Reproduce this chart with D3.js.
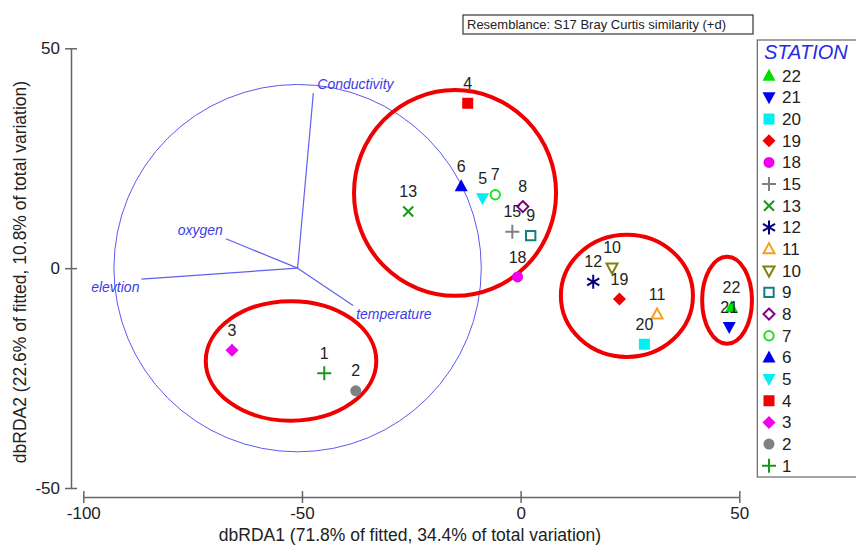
<!DOCTYPE html>
<html>
<head>
<meta charset="utf-8">
<script src="https://cdn.jsdelivr.net/npm/d3@7"></script>
<style>
  body { margin: 0; background: #fff; }
  svg { display: block; font-family: Arial, "Liberation Sans", sans-serif; }
</style>
</head>
<body>
<div id="chart"></div>
<script>
// dbRDA ordination of stations
const stations = ['22','21','20','19','18','15','13','12','11','10','9','8','7','6','5','4','3','2','1'];
const dbRDA1 = [48.2, 47.7, 28.3, 22.6, -0.7, -1.9, -25.7, 16.6, 31.2, 20.9, 2.3, 0.5, -5.8, -13.6, -8.7, -12.1, -66.0, -37.7, -44.9];
const dbRDA2 = [-8.9, -13.4, -17.3, -7.0, -2.0, 8.3, 12.9, -3.1, -10.5, 0.1, 7.4, 14.0, 16.7, 18.6, 15.9, 37.5, -18.7, -27.9, -23.9];
const shapes = ['triUp','triDown','square','diamond','circle','plus','cross','asterisk','triUp','triDown','square','diamond','circle','triUp','triDown','square','diamond','circle','plus'];
const filled = [true, true, true, true, true, false, false, false, false, false, false, false, false, true, true, true, true, true, false];
const colors = ['#00e000','#0000f0','#00f0f0','#f00000','#f000f0','#808080','#1a961a','#000080','#f5a020','#808010','#108080','#800080','#20e020','#0000f0','#00f0f0','#f00000','#f000f0','#808080','#1a961a'];

// environmental vectors (overlay circle centred at vecOrigin)
const vecNames = ['Conductivity','oxygen','elevtion','temperature'];
const vecX = [3.6, -16.4, -35.7, 12.7];
const vecY = [39.8, 6.7, -2.5, -8.5];
const vecOrigin = [-51.0, 0];
const vecRadius = 42.0;

// hand-drawn cluster ellipses (data units)
const ellCx = [-15.0, 24.3, 47.2, -52.5];
const ellCy = [17.1, -6.3, -7.3, -21.1];
const ellRx = [23.1, 15.1, 5.7, 19.5];
const ellRy = [23.4, 13.9, 9.9, 13.6];

const xTicks = [-100, -50, 0, 50];
const yTicks = [-50, 0, 50];

const W = 856, H = 545;
const svg = d3.select('#chart').append('svg').attr('width', W).attr('height', H);

const x = d3.scaleLinear().domain([-100, 50]).range([83.3, 739.3]);
const y = d3.scaleLinear().domain([-50, 50]).range([488, 48.3]);
const AXIS = '#666';

function shapePath(shape, isFilled) {
  const p = d3.path();
  const s = isFilled ? 1 : 0.85;
  switch (shape) {
    case 'triUp': p.moveTo(0, -7*s); p.lineTo(6.5*s, 5*s); p.lineTo(-6.5*s, 5*s); p.closePath(); break;
    case 'triDown': p.moveTo(0, 7*s); p.lineTo(6.5*s, -5*s); p.lineTo(-6.5*s, -5*s); p.closePath(); break;
    case 'square': p.rect(-5.5*s, -5.5*s, 11*s, 11*s); break;
    case 'diamond': p.moveTo(0, -6.5*s); p.lineTo(6.5*s, 0); p.lineTo(0, 6.5*s); p.lineTo(-6.5*s, 0); p.closePath(); break;
    case 'circle': p.moveTo(5.5*s, 0); p.arc(0, 0, 5.5*s, 0, 2*Math.PI); break;
    case 'plus': p.moveTo(-7, 0); p.lineTo(7, 0); p.moveTo(0, -7); p.lineTo(0, 7); break;
    case 'cross': p.moveTo(-5, -5); p.lineTo(5, 5); p.moveTo(5, -5); p.lineTo(-5, 5); break;
    case 'asterisk':
      [90, 30, 150].forEach(a => {
        const r = a * Math.PI / 180;
        p.moveTo(Math.cos(r)*7, Math.sin(r)*7); p.lineTo(-Math.cos(r)*7, -Math.sin(r)*7);
      });
      break;
  }
  return p.toString();
}
const isLine = s => s === 'plus' || s === 'cross' || s === 'asterisk';

function drawSymbol(sel) {
  sel.attr('d', i => shapePath(shapes[i], filled[i]))
    .attr('fill', i => (filled[i] && !isLine(shapes[i])) ? colors[i] : 'none')
    .attr('stroke', i => (filled[i] && !isLine(shapes[i])) ? 'none' : colors[i])
    .attr('stroke-width', 2);
}

// axes (plain hyphen for negatives, as in the original)
const fmt = d => String(d);
const xAxis = svg.append('g').attr('transform', 'translate(0,497)')
  .call(d3.axisBottom(x).tickValues(xTicks).tickFormat(fmt).tickSize(6).tickSizeOuter(0).tickPadding(4));
xAxis.selectAll('.tick line').attr('y1', -6);
const yAxis = svg.append('g').attr('transform', 'translate(71,0)')
  .call(d3.axisLeft(y).tickValues(yTicks).tickFormat(fmt).tickSize(6).tickSizeOuter(0).tickPadding(5));
yAxis.selectAll('.tick line').attr('x1', 6);
[xAxis, yAxis].forEach(a => {
  a.select('.domain').attr('stroke', AXIS).attr('stroke-width', 1.5);
  a.selectAll('.tick line').attr('stroke', AXIS).attr('stroke-width', 1.5);
  a.selectAll('.tick text').attr('fill', '#222').style('font-size', '17px').style('font-family', 'Arial, "Liberation Sans", sans-serif');
});

svg.append('text').attr('x', 410).attr('y', 541).attr('text-anchor', 'middle')
  .attr('fill', '#222').style('font-size', '17.5px')
  .text('dbRDA1 (71.8% of fitted, 34.4% of total variation)');
svg.append('text').attr('transform', 'translate(26,272) rotate(-90)').attr('text-anchor', 'middle')
  .attr('fill', '#222').style('font-size', '17.5px')
  .text('dbRDA2 (22.6% of fitted, 10.8% of total variation)');

// vector overlay
const ox = x(vecOrigin[0]), oy = y(vecOrigin[1]);
const pxR = x(vecRadius) - x(0);
const vg = svg.append('g');
vg.append('circle').attr('cx', ox).attr('cy', oy).attr('r', pxR)
  .attr('fill', 'none').attr('stroke', '#5a5af0').attr('stroke-width', 1);
vg.selectAll('line.vec').data(vecNames.map((d, i) => i)).join('line')
  .attr('class', 'vec')
  .attr('x1', ox).attr('y1', oy)
  .attr('x2', i => x(vecOrigin[0] + vecX[i])).attr('y2', i => y(vecOrigin[1] + vecY[i]))
  .attr('stroke', '#6060f0').attr('stroke-width', 1.2);
const vLabOff = [[4, -9, 'start'], [-3, -9, 'end'], [-2, 8, 'end'], [3, 9, 'start']];
vg.selectAll('text.vlab').data(vecNames.map((d, i) => i)).join('text')
  .attr('class', 'vlab')
  .attr('x', i => x(vecOrigin[0] + vecX[i]) + vLabOff[i][0])
  .attr('y', i => y(vecOrigin[1] + vecY[i]) + vLabOff[i][1])
  .attr('dy', '0.35em')
  .attr('text-anchor', i => vLabOff[i][2])
  .attr('fill', '#3c3ce6').style('font-size', '14px').style('font-style', 'italic')
  .text(i => vecNames[i]);

// cluster ellipses
svg.append('g').selectAll('ellipse').data(ellCx.map((d, i) => i)).join('ellipse')
  .attr('cx', i => x(ellCx[i])).attr('cy', i => y(ellCy[i]))
  .attr('rx', i => x(ellRx[i]) - x(0)).attr('ry', i => y(0) - y(ellRy[i]))
  .attr('fill', 'none').attr('stroke', '#f00000').attr('stroke-width', 4);

// points
const idx = stations.map((d, i) => i);
svg.append('g').selectAll('path').data(idx).join('path')
  .attr('transform', i => `translate(${x(dbRDA1[i])},${y(dbRDA2[i])})`)
  .call(drawSymbol);
svg.append('g').selectAll('text').data(idx).join('text')
  .attr('x', i => x(dbRDA1[i])).attr('y', i => y(dbRDA2[i]) - 20)
  .attr('dy', '0.35em').attr('text-anchor', 'middle')
  .attr('fill', '#222').style('font-size', '16px')
  .text(i => stations[i]);

// resemblance box
svg.append('rect').attr('x', 463).attr('y', 15).attr('width', 290).attr('height', 19)
  .attr('fill', '#fff').attr('stroke', '#444').attr('stroke-width', 1.3);
svg.append('text').attr('x', 467).attr('y', 24.5).attr('dy', '0.35em')
  .attr('fill', '#222').style('font-size', '13px')
  .text('Resemblance: S17 Bray Curtis similarity (+d)');

// legend
const lg = svg.append('g');
lg.append('rect').attr('x', 757.3).attr('y', 40).attr('width', 120).attr('height', 437)
  .attr('fill', '#fff').attr('stroke', '#666').attr('stroke-width', 1.2);
lg.append('text').attr('x', 764).attr('y', 52).attr('dy', '0.35em')
  .attr('fill', '#2a2ae6').style('font-size', '20px').style('font-style', 'italic')
  .text('STATION');
const ly = i => 75.7 + i * 21.67;
lg.selectAll('path').data(idx).join('path')
  .attr('transform', i => `translate(769,${ly(i)})`)
  .call(drawSymbol);
lg.selectAll('text.lt').data(idx).join('text')
  .attr('class', 'lt')
  .attr('x', 782).attr('y', i => ly(i)).attr('dy', '0.35em')
  .attr('fill', '#222').style('font-size', '17px')
  .text(i => stations[i]);
</script>
</body>
</html>
